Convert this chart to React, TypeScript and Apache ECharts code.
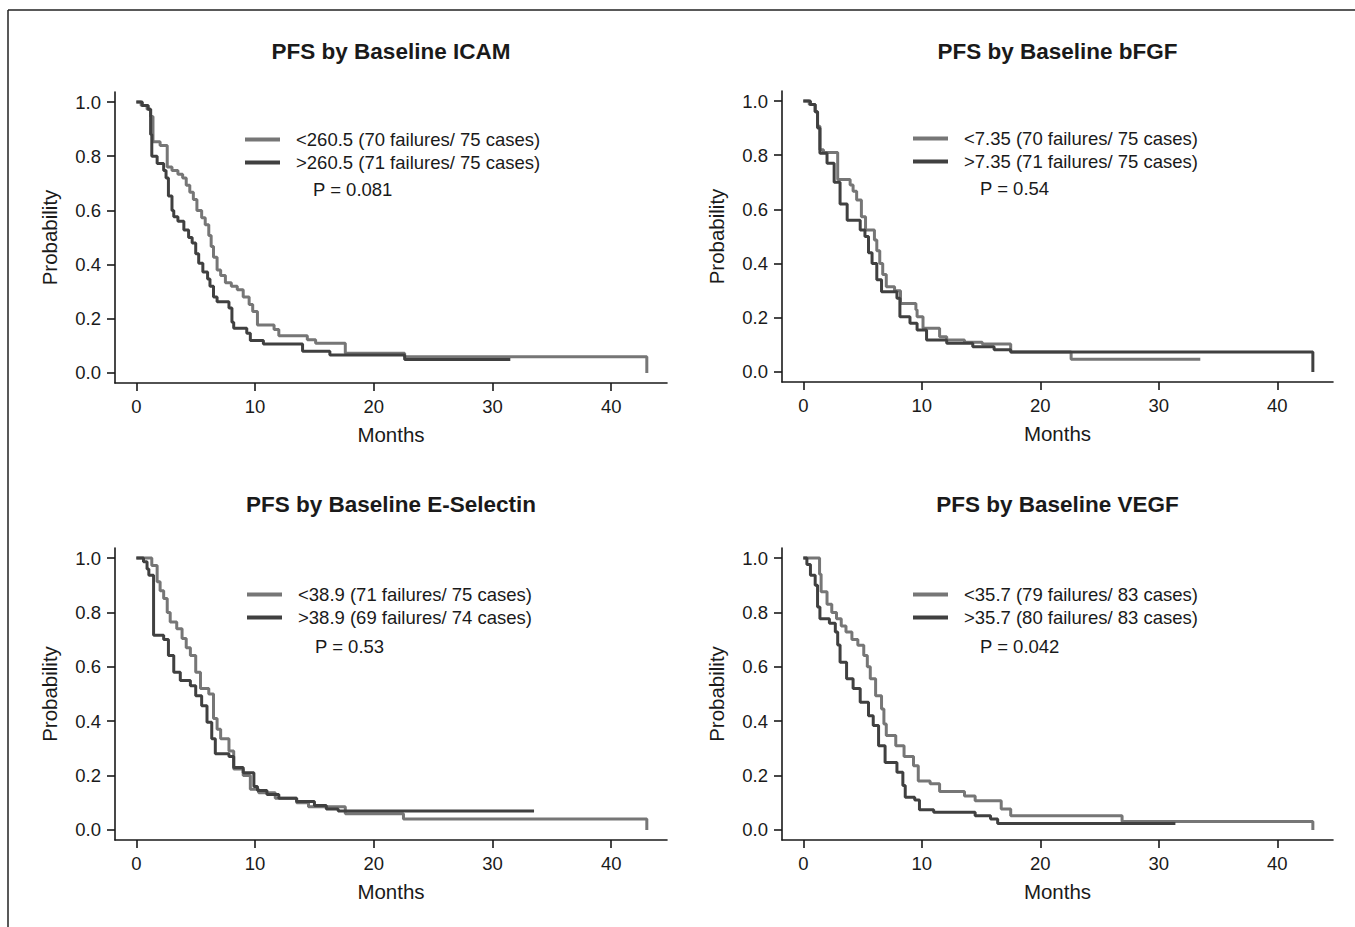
import React, { useEffect, useRef } from "react";
import * as echarts from "echarts";

// ---- tick labels ----
const xTicks = [0, 10, 20, 30, 40];
const yTicks = [0, 0.2, 0.4, 0.6, 0.8, 1.0];

// ---- panel texts ----
const panelTitles = [
  "PFS by Baseline ICAM",
  "PFS by Baseline bFGF",
  "PFS by Baseline E-Selectin",
  "PFS by Baseline VEGF",
];
const lowNames = [
  "<260.5 (70 failures/ 75 cases)",
  "<7.35 (70 failures/ 75 cases)",
  "<38.9 (71 failures/ 75 cases)",
  "<35.7 (79 failures/ 83 cases)",
];
const highNames = [
  ">260.5 (71 failures/ 75 cases)",
  ">7.35 (71 failures/ 75 cases)",
  ">38.9 (69 failures/ 74 cases)",
  ">35.7 (80 failures/ 83 cases)",
];
const pValues = ["P = 0.081", "P = 0.54", "P = 0.53", "P = 0.042"];

// ---- ICAM ----
const icamLowT = [0, 0.4, 0.9, 1.2, 1.4, 2.0, 2.6, 3.0, 3.5, 3.9, 4.2, 4.5, 4.8, 5.1, 5.5, 5.8, 6.1, 6.3, 6.5, 6.8, 7.1, 7.5, 8.0, 8.5, 9.0, 9.5, 9.8, 10.2, 11.6, 12.0, 14.4, 15.1, 17.6, 22.6, 43, 43];
const icamLowS = [1, 0.987, 0.973, 0.947, 0.853, 0.84, 0.76, 0.747, 0.733, 0.72, 0.693, 0.667, 0.64, 0.6, 0.573, 0.547, 0.507, 0.467, 0.427, 0.38, 0.36, 0.333, 0.32, 0.307, 0.28, 0.253, 0.227, 0.177, 0.16, 0.137, 0.123, 0.11, 0.073, 0.06, 0.06, 0];
const icamHighT = [0, 0.5, 1.0, 1.2, 1.3, 1.75, 2.3, 2.5, 2.7, 3.0, 3.15, 3.5, 4.0, 4.4, 4.7, 5.0, 5.25, 5.6, 6.0, 6.2, 6.5, 6.8, 7.8, 8.05, 8.2, 9.3, 9.6, 10.7, 14.0, 16.3, 22.6, 31.5];
const icamHighS = [1, 0.987, 0.973, 0.88, 0.8, 0.773, 0.747, 0.72, 0.653, 0.6, 0.577, 0.56, 0.528, 0.5, 0.48, 0.44, 0.405, 0.373, 0.347, 0.32, 0.28, 0.263, 0.24, 0.187, 0.165, 0.147, 0.12, 0.107, 0.08, 0.066, 0.05, 0.05];

// ---- bFGF ----
const bfgfLowT = [0, 0.5, 1.0, 1.2, 1.4, 1.7, 2.9, 3.95, 4.2, 4.5, 4.9, 5.25, 6.0, 6.2, 6.45, 6.7, 7.0, 7.7, 8.2, 9.5, 9.6, 10.1, 11.5, 12.1, 13.6, 15.1, 17.5, 22.6, 33.5];
const bfgfLowS = [1, 0.987, 0.96, 0.907, 0.82, 0.81, 0.71, 0.69, 0.667, 0.635, 0.573, 0.524, 0.487, 0.447, 0.4, 0.36, 0.315, 0.3, 0.253, 0.23, 0.204, 0.161, 0.13, 0.118, 0.11, 0.103, 0.074, 0.047, 0.047];
const bfgfHighT = [0, 0.6, 1.0, 1.2, 1.4, 2.0, 2.6, 3.1, 3.7, 4.8, 5.2, 5.5, 5.8, 6.2, 6.6, 7.9, 8.15, 9.0, 9.6, 10.4, 12.1, 14.3, 16.1, 17.5, 43, 43];
const bfgfHighS = [1, 0.987, 0.96, 0.9, 0.807, 0.77, 0.7, 0.62, 0.56, 0.524, 0.5, 0.44, 0.4, 0.34, 0.296, 0.272, 0.204, 0.18, 0.155, 0.118, 0.106, 0.093, 0.082, 0.074, 0.074, 0];

// ---- E-Selectin ----
const eselLowT = [0, 1.3, 1.75, 2.0, 2.3, 2.6, 2.85, 3.4, 3.85, 4.2, 4.55, 5.0, 5.4, 6.1, 6.5, 6.8, 7.1, 7.8, 8.2, 9.0, 9.6, 10.3, 11.7, 13.5, 14.5, 17.6, 22.5, 43, 43];
const eselLowS = [1, 0.973, 0.913, 0.88, 0.851, 0.8, 0.765, 0.74, 0.704, 0.67, 0.642, 0.58, 0.52, 0.5, 0.41, 0.37, 0.335, 0.29, 0.224, 0.2, 0.15, 0.137, 0.117, 0.1, 0.085, 0.06, 0.04, 0.04, 0];
const eselHighT = [0, 0.6, 0.9, 1.05, 1.45, 2.3, 2.7, 3.15, 3.7, 4.55, 5.0, 5.5, 5.95, 6.35, 6.65, 7.8, 8.2, 9.0, 9.9, 10.2, 11.0, 12.0, 13.5, 15.0, 16.0, 17.0, 33.5];
const eselHighS = [1, 0.986, 0.96, 0.937, 0.716, 0.7, 0.642, 0.58, 0.55, 0.53, 0.494, 0.457, 0.396, 0.335, 0.28, 0.27, 0.23, 0.21, 0.16, 0.145, 0.13, 0.117, 0.105, 0.09, 0.077, 0.07, 0.07];

// ---- VEGF ----
const vegfLowT = [0, 1.37, 1.5, 2.0, 2.4, 2.8, 3.2, 3.6, 4.1, 4.6, 5.1, 5.4, 5.65, 6.1, 6.6, 6.8, 7.0, 7.8, 8.5, 9.3, 9.7, 10.7, 11.5, 13.6, 14.5, 16.7, 17.5, 26.9, 43, 43];
const vegfLowS = [1, 0.94, 0.876, 0.83, 0.8, 0.777, 0.75, 0.728, 0.7, 0.679, 0.642, 0.6, 0.556, 0.494, 0.445, 0.39, 0.347, 0.31, 0.27, 0.236, 0.18, 0.17, 0.141, 0.125, 0.107, 0.077, 0.052, 0.031, 0.031, 0];
const vegfHighT = [0, 0.3, 0.6, 1.0, 1.2, 1.4, 2.2, 2.7, 2.9, 3.1, 3.65, 4.2, 4.8, 5.5, 5.9, 6.35, 6.9, 7.9, 8.4, 8.6, 9.4, 9.8, 11.0, 14.5, 15.8, 16.4, 31.4];
const vegfHighS = [1, 0.976, 0.937, 0.9, 0.82, 0.777, 0.76, 0.728, 0.68, 0.617, 0.556, 0.52, 0.47, 0.42, 0.384, 0.31, 0.248, 0.212, 0.163, 0.12, 0.11, 0.074, 0.065, 0.052, 0.04, 0.024, 0.024];

const lowT = [icamLowT, bfgfLowT, eselLowT, vegfLowT];
const lowS = [icamLowS, bfgfLowS, eselLowS, vegfLowS];
const highT = [icamHighT, bfgfHighT, eselHighT, vegfHighT];
const highS = [icamHighS, bfgfHighS, eselHighS, vegfHighS];

// ---- layout ----
const grids = [
  { left: 115, top: 92, width: 552, height: 291 },
  { left: 782, top: 91, width: 551, height: 291 },
  { left: 115, top: 548, width: 552, height: 292 },
  { left: 782, top: 548, width: 551, height: 292 },
];
const titleTops = [40, 40, 493, 493];
const legendPos = [
  { left: 245, top: 129 },
  { left: 913, top: 128 },
  { left: 247, top: 584 },
  { left: 913, top: 584 },
];
const pPos = [
  { x: 313, y: 180 },
  { x: 980, y: 179 },
  { x: 315, y: 637 },
  { x: 980, y: 637 },
];

const LIGHT = "#767676";
const DARK = "#404040";
const INK = "#1a1a1a";
const FONT = "'Liberation Sans', Arial, sans-serif";

const zip = (t: number[], s: number[]) => t.map((v, i) => [v, s[i]]);

export default function App() {
  const ref = useRef<HTMLDivElement>(null);
  useEffect(() => {
    if (!ref.current) return;
    const chart = echarts.init(ref.current, undefined, { renderer: "svg" });

    const xAxis = grids.map((_, i) => ({
      type: "value",
      gridIndex: i,
      min: -1.8,
      max: 44.7,
      name: "Months",
      nameLocation: "middle",
      nameGap: 41,
      nameTextStyle: { fontSize: 20.5, color: INK, fontFamily: FONT },
      axisLine: { show: true, onZero: false, lineStyle: { color: INK, width: 1.6 } },
      axisTick: { show: true, length: 8, customValues: xTicks, lineStyle: { color: INK, width: 1.6 } },
      axisLabel: { customValues: xTicks, fontSize: 18.5, color: INK, fontFamily: FONT, margin: 14 },
      splitLine: { show: false },
    }));
    const yAxis = grids.map((_, i) => ({
      type: "value",
      gridIndex: i,
      min: -0.037,
      max: 1.037,
      name: "Probability",
      nameLocation: "middle",
      nameRotate: 90,
      nameGap: 55,
      nameTextStyle: { fontSize: 20.5, color: INK, fontFamily: FONT },
      axisLine: { show: true, onZero: false, lineStyle: { color: INK, width: 1.6 } },
      axisTick: { show: true, length: 8, customValues: yTicks, lineStyle: { color: INK, width: 1.6 } },
      axisLabel: {
        customValues: yTicks,
        fontSize: 18.5,
        color: INK,
        fontFamily: FONT,
        margin: 14,
        formatter: (v: number) => v.toFixed(1),
      },
      splitLine: { show: false },
    }));

    const series: any[] = [];
    for (let i = 0; i < 4; i++) {
      series.push({
        type: "line",
        name: lowNames[i],
        xAxisIndex: i,
        yAxisIndex: i,
        step: "end",
        symbol: "none",
        color: LIGHT,
        itemStyle: { color: LIGHT },
        lineStyle: { color: LIGHT, width: 3 },
        data: zip(lowT[i], lowS[i]),
      });
      series.push({
        type: "line",
        name: highNames[i],
        xAxisIndex: i,
        yAxisIndex: i,
        step: "end",
        symbol: "none",
        color: DARK,
        itemStyle: { color: DARK },
        lineStyle: { color: DARK, width: 3 },
        data: zip(highT[i], highS[i]),
      });
    }

    const option: any = {
      animation: false,
      backgroundColor: "#ffffff",
      grid: grids.map((g) => ({ ...g, containLabel: false })),
      title: panelTitles.map((t, i) => ({
        text: t,
        left: grids[i].left + grids[i].width / 2,
        top: titleTops[i],
        textAlign: "center",
        padding: 0,
        textStyle: { fontSize: 22.5, fontWeight: "bold", color: INK, fontFamily: FONT },
      })),
      legend: legendPos.map((p, i) => ({
        data: [lowNames[i], highNames[i]],
        orient: "vertical",
        left: p.left,
        top: p.top,
        icon: "rect",
        itemWidth: 35,
        itemHeight: 4,
        itemGap: 2,
        padding: 0,
        selectedMode: false,
        textStyle: { fontSize: 18.5, lineHeight: 21, color: INK, fontFamily: FONT, padding: [0, 0, 0, 11] },
      })),
      xAxis,
      yAxis,
      series,
      graphic: [
        { type: "line", shape: { x1: 8, y1: 10, x2: 1355, y2: 10 }, style: { stroke: "#222", lineWidth: 1.5 } },
        { type: "line", shape: { x1: 8, y1: 10, x2: 8, y2: 927 }, style: { stroke: "#222", lineWidth: 1.5 } },
        ...pPos.map((p, i) => ({
          type: "text",
          x: p.x,
          y: p.y,
          style: { text: pValues[i], fontSize: 18.5, fill: INK, fontFamily: FONT },
        })),
      ],
    };
    chart.setOption(option);
    return () => chart.dispose();
  }, []);
  return (
    <div
      ref={ref}
      style={{ position: "fixed", left: 0, top: 0, width: 1355, height: 927, background: "#fff" }}
    />
  );
}
